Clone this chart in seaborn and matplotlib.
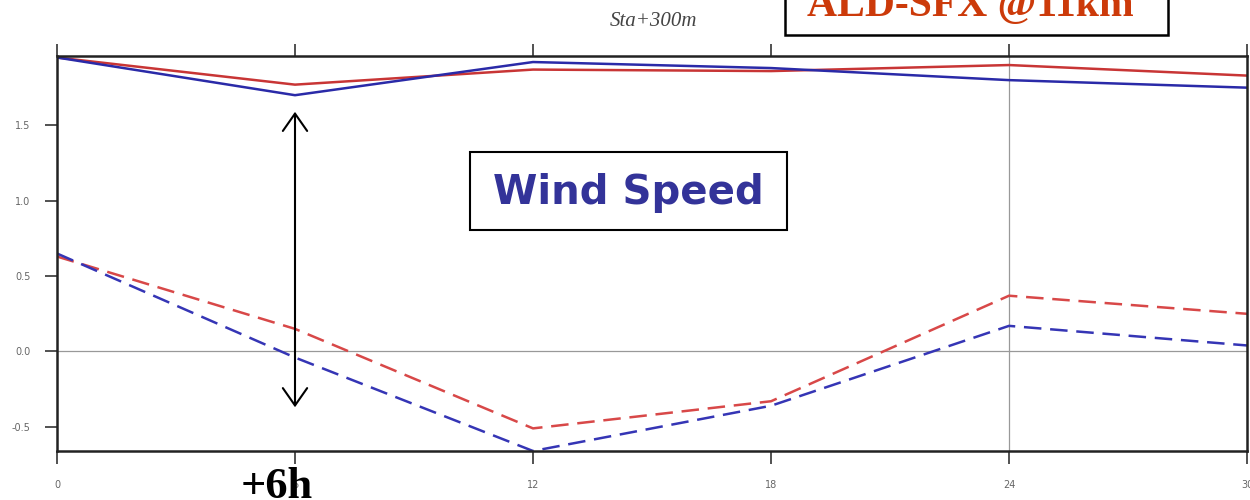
import matplotlib
matplotlib.use("Agg")
import matplotlib.pyplot as plt
import matplotlib.patches as mpatches
import seaborn as sns
import pandas as pd

hours = [0, 6, 12, 18, 24, 30]
red_solid = [1.95, 1.77, 1.87, 1.86, 1.90, 1.83]
blue_solid = [1.95, 1.70, 1.92, 1.88, 1.80, 1.75]
red_dashed = [0.63, 0.15, -0.51, -0.33, 0.37, 0.25]
blue_dashed = [0.65, -0.04, -0.66, -0.36, 0.17, 0.04]
x_ticks = [0, 6, 12, 18, 24, 30]
y_ticks = [-0.5, 0.0, 0.5, 1.0, 1.5]

series = {
    "red_solid": red_solid,
    "blue_solid": blue_solid,
    "red_dashed": red_dashed,
    "blue_dashed": blue_dashed,
}
df = pd.concat(
    [pd.DataFrame({"hour": hours, "value": v, "series": k}) for k, v in series.items()],
    ignore_index=True,
)

sns.set_style("white")
fig = plt.figure(figsize=(12.5, 5), dpi=100)
ax = fig.add_axes([57 / 1250, 1 - 451 / 500, (1247 - 57) / 1250, (451 - 56) / 500])

palette = {
    "red_solid": "#c83535",
    "blue_solid": "#2a2aa8",
    "red_dashed": "#d84848",
    "blue_dashed": "#3535b5",
}
dashes = {
    "red_solid": "",
    "blue_solid": "",
    "red_dashed": (7, 3.5),
    "blue_dashed": (7, 3.5),
}
sns.lineplot(data=df, x="hour", y="value", hue="series", style="series",
             palette=palette, dashes=dashes, linewidth=1.8, ax=ax, legend=False)

ax.set_xlim(0, 30)
ax.set_ylim(-0.66, 1.96)
ax.axvline(24, color="#999999", lw=0.9, zorder=0)
ax.axhline(0, color="#999999", lw=0.9, zorder=0)

ax.set_xticks(x_ticks)
ax.set_xticklabels([str(t) for t in x_ticks])
ax.set_yticks(y_ticks)
ax.set_yticklabels([f"{t:.1f}" for t in y_ticks])
ax.tick_params(axis="both", which="both", direction="out", length=9, width=1.2,
               colors="#333333", labelsize=7, labelcolor="#666666", pad=10,
               top=True, bottom=True, left=True, right=False, labeltop=False)
ax.tick_params(axis="x", pad=12)
for s in ax.spines.values():
    s.set_linewidth(1.8)
    s.set_color("#222222")
ax.set_xlabel("")
ax.set_ylabel("")

# double-headed arrow at +6h
ax.annotate("", xy=(6, 1.59), xytext=(6, -0.37),
            arrowprops=dict(arrowstyle="<->,head_length=0.5,head_width=0.35",
                            color="black", lw=1.5,
                            mutation_scale=25, shrinkA=0, shrinkB=0))

fig.text(653 / 1250, 1 - 21 / 500, "Sta+300m", ha="center", va="center",
         fontsize=15, style="italic", family="Liberation Serif", color="#444444")

# title box at top right
fig.patches.append(mpatches.Rectangle((785 / 1250, 1 - 35 / 500), (1168 - 785) / 1250,
                                      0.2, transform=fig.transFigure, fc="white",
                                      ec="black", lw=1.8, zorder=3))
fig.text(970 / 1250, 1 - 16 / 500, "ALD-SFX @11km", ha="center", va="baseline",
         fontsize=30, fontweight="bold", family="Liberation Serif", color="#cc3a0a",
         zorder=4)

# Wind Speed box
fig.patches.append(mpatches.Rectangle((470 / 1250, 1 - 230 / 500), (787 - 470) / 1250,
                                      (230 - 152) / 500, transform=fig.transFigure,
                                      fc="white", ec="black", lw=1.5, zorder=3))
fig.text(628 / 1250, 1 - 193 / 500, "Wind Speed", ha="center", va="center",
         fontsize=29, fontweight="bold", family="DejaVu Sans", color="#333399",
         zorder=4)

fig.text(277 / 1250, 1 - 498 / 500, "+6h", ha="center", va="baseline",
         fontsize=32, fontweight="bold", family="Liberation Serif", color="black",
         zorder=5)

fig.savefig("out.png", dpi=100, facecolor="white")
